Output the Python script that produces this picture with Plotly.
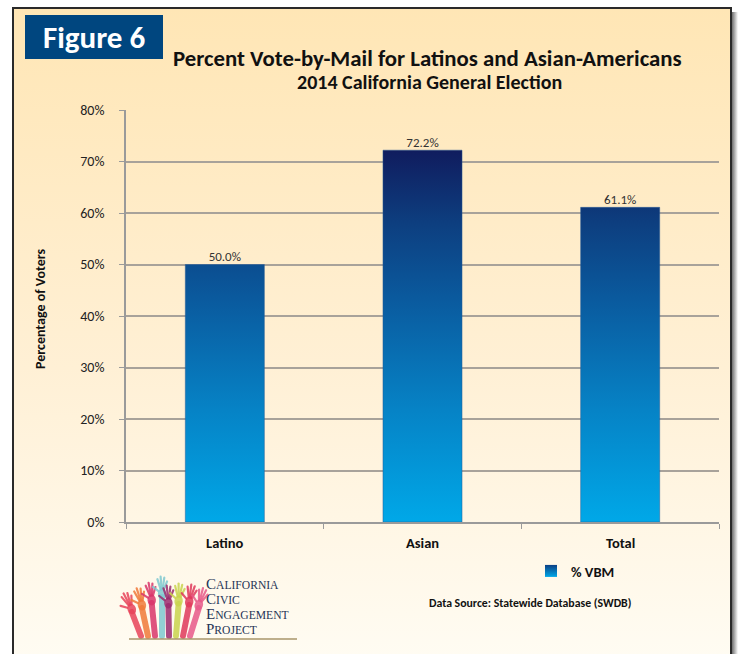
import base64
import math
import plotly.graph_objects as go

# ---------------- data ----------------
categories = ["Latino", "Asian", "Total"]
vbm_percent = [50.0, 72.2, 61.1]
series_name = "% VBM"
y_ticks = [0, 10, 20, 30, 40, 50, 60, 70, 80]
y_tick_labels = [f"{v}%" for v in y_ticks]

W, H = 738, 654
L, R, T, B = 126, 719, 110, 522  # plot area in pixels


def px(x):
    return (x - L) / (R - L)


def py(y):
    return (B - y) / (B - T)


FONT = "Carlito, Lato, 'Open Sans', sans-serif"

# ---------------- background svg (gradient, frame shadow, logo hands) ----------------
hands = [
    # x at bottom, wrist_y, tilt (radians), color
    (141, 612, -0.40, "#E8445A"),
    (148, 608, -0.22, "#F07A3A"),
    (155, 603, -0.10, "#D9366B"),
    (162, 597, 0.00, "#7FC9D0"),
    (169, 606, -0.02, "#9B2C6E"),
    (176, 604, 0.08, "#C9D44E"),
    (183, 605, 0.20, "#E03A5C"),
    (190, 608, 0.32, "#E85A8A"),
]
hand_svg = ""
for hx, wy, tilt, col in hands:
    wx = hx + math.sin(tilt) * (636 - wy)
    hand_svg += (f'<line x1="{hx}" y1="636" x2="{wx:.1f}" y2="{wy}" '
                 f'stroke="{col}" stroke-width="6" stroke-linecap="round" opacity="0.85"/>')
    hand_svg += (f'<ellipse cx="{wx:.1f}" cy="{wy - 3}" rx="4.2" ry="5.5" fill="{col}" opacity="0.85" '
                 f'transform="rotate({math.degrees(tilt):.1f} {wx:.1f} {wy - 3})"/>')
    for ang, ln in [(-0.9, 7), (-0.3, 11), (-0.08, 13), (0.14, 12), (0.38, 9)]:
        a = tilt + ang
        x0 = wx + math.sin(a) * 4.5
        y0 = wy - 3 - math.cos(a) * 4.5
        x1 = x0 + math.sin(a) * ln
        y1 = y0 - math.cos(a) * ln
        hand_svg += (f'<line x1="{x0:.1f}" y1="{y0:.1f}" x2="{x1:.1f}" y2="{y1:.1f}" '
                     f'stroke="{col}" stroke-width="2.2" stroke-linecap="round" opacity="0.85"/>')

svg = f'''<svg xmlns="http://www.w3.org/2000/svg" width="{W}" height="{H}" viewBox="0 0 {W} {H}">
<defs>
<linearGradient id="bg" x1="0" y1="0" x2="0" y2="1">
<stop offset="0" stop-color="#FFE6B5"/>
<stop offset="0.55" stop-color="#FFF0D5"/>
<stop offset="1" stop-color="#FFFCF3"/>
</linearGradient>
<linearGradient id="sh" x1="0" y1="0" x2="1" y2="0">
<stop offset="0" stop-color="#6E6E6E"/>
<stop offset="1" stop-color="#FFFFFF"/>
</linearGradient>
</defs>
<rect x="0" y="0" width="{W}" height="{H}" fill="#FFFFFF"/>
<rect x="732" y="12" width="6" height="{H}" fill="url(#sh)"/>
<rect x="13" y="8" width="718" height="{H}" fill="url(#bg)"/>
{hand_svg}
</svg>'''
svg_uri = "data:image/svg+xml;base64," + base64.b64encode(svg.encode()).decode()

# ---------------- bars as gradient-filled polygons ----------------
half = 0.2
bx, by = [], []
for i, v in enumerate(vbm_percent):
    bx += [i - half, i + half, i + half, i - half, i - half, None]
    by += [0, 0, v, v, 0, None]

fig = go.Figure()
fig.add_trace(go.Scatter(
    x=bx, y=by, mode="lines", fill="toself", name=series_name,
    line=dict(color="rgba(40,90,150,0.6)", width=0.8),
    fillgradient=dict(
        type="vertical", start=0, stop=max(vbm_percent),
        colorscale=[[0, "#00A8E8"], [0.3, "#0683C6"], [0.6, "#0A5A9E"],
                    [0.8, "#0D3F80"], [1, "#101C5E"]],
    ),
    hoverinfo="skip", showlegend=False,
))
# legend entry (square gradient swatch)
fig.add_trace(go.Scatter(
    x=[None], y=[None], mode="markers", name=series_name,
    marker=dict(symbol="square", size=12, color="#0B3F84",
                gradient=dict(type="vertical", color="#00A8E8")),
    showlegend=True, hoverinfo="skip",
))
fig.add_trace(go.Scatter(
    x=list(range(len(categories))), y=vbm_percent, mode="text",
    text=[f"{v:.1f}%" for v in vbm_percent], textposition="top center",
    textfont=dict(family=FONT, size=13, color="#333333"),
    showlegend=False, hoverinfo="skip", cliponaxis=False,
))

annotations = []
for i, c in enumerate(categories):
    annotations.append(dict(x=i, y=py(543), xref="x", yref="paper", text=f"<b>{c}</b>",
                            showarrow=False, font=dict(family=FONT, size=14.5, color="#111111"),
                            xanchor="center", yanchor="middle"))

annotations += [
    dict(x=px(94), y=py(37), xref="paper", yref="paper", text="<b>Figure 6</b>", showarrow=False,
         font=dict(family=FONT, size=31, color="#FFFFFF"), xanchor="center", yanchor="middle"),
    dict(x=px(427), y=py(58), xref="paper", yref="paper",
         text="<b>Percent Vote-by-Mail for Latinos and Asian-Americans</b>", showarrow=False,
         font=dict(family=FONT, size=22.8, color="#111111"), xanchor="center", yanchor="middle"),
    dict(x=px(429), y=py(82), xref="paper", yref="paper",
         text="<b>2014 California General Election</b>", showarrow=False,
         font=dict(family=FONT, size=20, color="#111111"), xanchor="center", yanchor="middle"),
    dict(x=px(40), y=py(309), xref="paper", yref="paper", text="<b>Percentage of Voters</b>",
         showarrow=False, textangle=-90, font=dict(family=FONT, size=14, color="#111111"),
         xanchor="center", yanchor="middle"),
    dict(x=px(530), y=py(603), xref="paper", yref="paper",
         text="<b>Data Source: Statewide Database (SWDB)</b>", showarrow=False,
         font=dict(family=FONT, size=11.8, color="#111111"), xanchor="center", yanchor="middle"),
]

logo_words = [("C", "ALIFORNIA"), ("C", "IVIC"), ("E", "NGAGEMENT"), ("P", "ROJECT")]
logo_text = "<br>".join(f"<span style='font-size:15px'>{b}</span>{r}" for b, r in logo_words)
annotations.append(dict(
    x=px(204), y=py(606), xref="paper", yref="paper", showarrow=False, text=logo_text,
    font=dict(family="'Liberation Serif', serif", size=11.6, color="#263456"),
    xanchor="left", yanchor="middle", align="left"))

shapes = [
    # outer frame
    dict(type="rect", xref="paper", yref="paper", x0=px(13), x1=px(731), y0=py(H + 10), y1=py(8),
         line=dict(color="#2A2A2A", width=2), fillcolor="rgba(0,0,0,0)", layer="below"),
    # Figure box
    dict(type="rect", xref="paper", yref="paper", x0=px(25), x1=px(163), y0=py(59), y1=py(15),
         line=dict(width=0), fillcolor="#00467F", layer="below"),
    # logo underline
    dict(type="line", xref="paper", yref="paper", x0=px(129), x1=px(297), y0=py(639), y1=py(639),
         line=dict(color="#A8966A", width=1.5)),
]

fig.update_layout(
    width=W, height=H,
    margin=dict(l=L, r=W - R, t=T, b=H - B, autoexpand=False),
    paper_bgcolor="#FFFFFF", plot_bgcolor="rgba(0,0,0,0)",
    images=[dict(source=svg_uri, xref="paper", yref="paper", x=px(0), y=py(0),
                 sizex=W / (R - L), sizey=H / (B - T), sizing="stretch",
                 xanchor="left", yanchor="top", layer="below")],
    xaxis=dict(range=[-0.5, len(categories) - 0.5], tickvals=[-0.5, 0.5, 1.5, 2.5],
               ticktext=["", "", "", ""], ticks="outside", ticklen=5, tickcolor="#9A9A9A",
               showline=True, linecolor="#9A9A9A", linewidth=1.5, showgrid=False, zeroline=False,
               fixedrange=True),
    yaxis=dict(range=[0, 80], tickvals=y_ticks, ticktext=y_tick_labels, ticks="outside", ticklen=5,
               tickcolor="#9A9A9A", showline=True, linecolor="#9A9A9A", linewidth=1.5,
               gridcolor="#A8A29A", gridwidth=1.5, zeroline=False, ticklabelstandoff=12,
               tickfont=dict(family=FONT, size=14, color="#222222"), fixedrange=True),
    showlegend=True,
    legend=dict(x=px(531), y=py(571), xanchor="left", yanchor="middle", bgcolor="rgba(0,0,0,0)",
                font=dict(family=FONT, size=14.5, color="#111111", weight="bold"), itemwidth=30),
    annotations=annotations, shapes=shapes,
)

fig.write_html("out.html", config={"displayModeBar": False})

# remove the browser's default page margin so the figure sits at the window origin
with open("out.html", encoding="utf-8") as f:
    html = f.read()
html = html.replace("<body>", '<body style="margin:0">', 1)
with open("out.html", "w", encoding="utf-8") as f:
    f.write(html)
